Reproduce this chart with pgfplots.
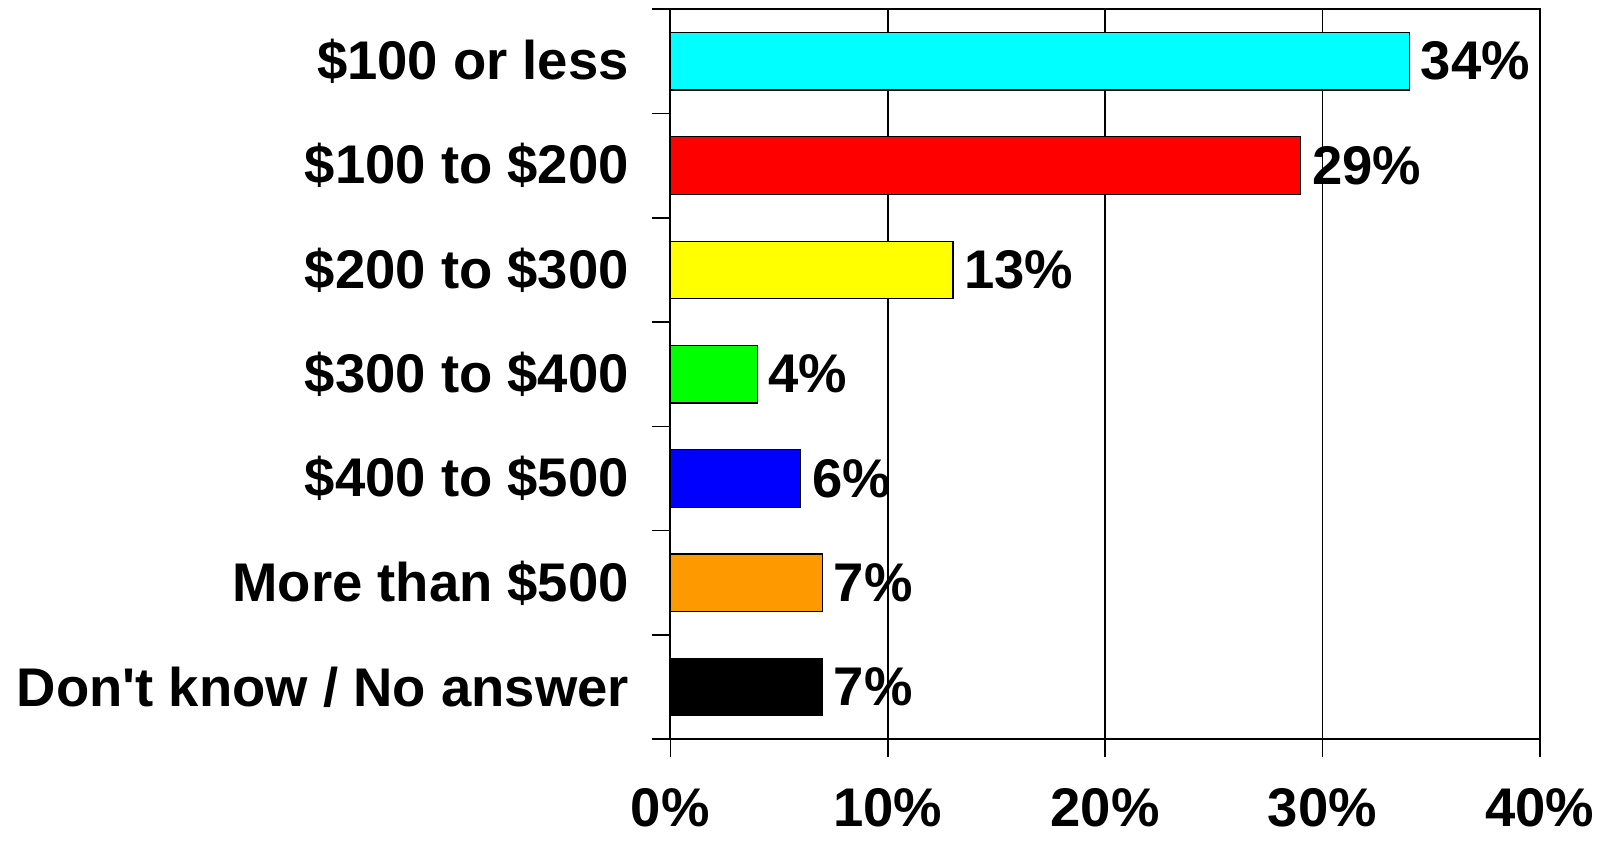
\documentclass[border=0pt]{standalone}
\usepackage{pgfplots}
\pgfplotsset{compat=1.18}
\usepackage{fontspec}
\setmainfont{Liberation Sans}[Ligatures=TeXOff]

\definecolor{cCyan}{RGB}{0,255,255}
\definecolor{cRed}{RGB}{255,0,0}
\definecolor{cYellow}{RGB}{255,255,0}
\definecolor{cGreen}{RGB}{0,255,0}
\definecolor{cBlue}{RGB}{0,0,255}
\definecolor{cOrange}{RGB}{255,153,0}

\begin{document}
\begin{tikzpicture}
\begin{axis}[
    scale only axis,
    width=431pt, height=362pt,
    xmin=0, xmax=40, ymin=-0.5, ymax=6.5,
    xtick={0,10,20,30,40},
    xticklabel={\pgfmathprintnumber{\tick}\%},
    xtick pos=bottom, ytick pos=left,
    xmajorgrids,
    major grid style={black, line width=0.8pt},
    axis line style={line width=1pt},
    tick style={black, line width=0.8pt},
    tick align=outside,
    major tick length=9pt,
    % ticks at the band edges, names at the band centres
    ytick={-0.5,0.5,...,6.5},
    yticklabels={},
    extra y ticks={0,...,6},
    extra y tick labels={Don't know / No answer, More than \$500, \$400 to \$500, \$300 to \$400, \$200 to \$300, \$100 to \$200, \$100 or less},
    extra y tick style={tick style={draw=none}},
    yticklabel style={font=\fontsize{27}{31}\selectfont\bfseries, xshift=-8pt},
    xticklabel style={font=\fontsize{27}{31}\selectfont\bfseries, yshift=-12pt},
    /pgf/number format/assume math mode=true,
    xbar, bar width=28.5pt, bar shift=0pt,
    nodes near coords={\pgfmathprintnumber{\pgfplotspointmeta}\%},
    nodes near coords style={font=\fontsize{27}{31}\selectfont\bfseries, anchor=west, xshift=2pt},
    point meta=x,
    clip=false,
]
\addplot[fill=cCyan, draw=black, line width=0.6pt] coordinates {(34,6)};
\addplot[fill=cRed, draw=black, line width=0.6pt] coordinates {(29,5)};
\addplot[fill=cYellow, draw=black, line width=0.6pt] coordinates {(13,4)};
\addplot[fill=cGreen, draw=black, line width=0.6pt] coordinates {(4,3)};
\addplot[fill=cBlue, draw=black, line width=0.6pt] coordinates {(6,2)};
\addplot[fill=cOrange, draw=black, line width=0.6pt] coordinates {(7,1)};
\addplot[fill=black, draw=black, line width=0.6pt] coordinates {(7,0)};
\end{axis}
\path ([yshift=4.5pt]current axis.north);
\path ([xshift=-5pt]current bounding box.west);
\path ([yshift=-3pt]current bounding box.south);
\end{tikzpicture}
\end{document}
